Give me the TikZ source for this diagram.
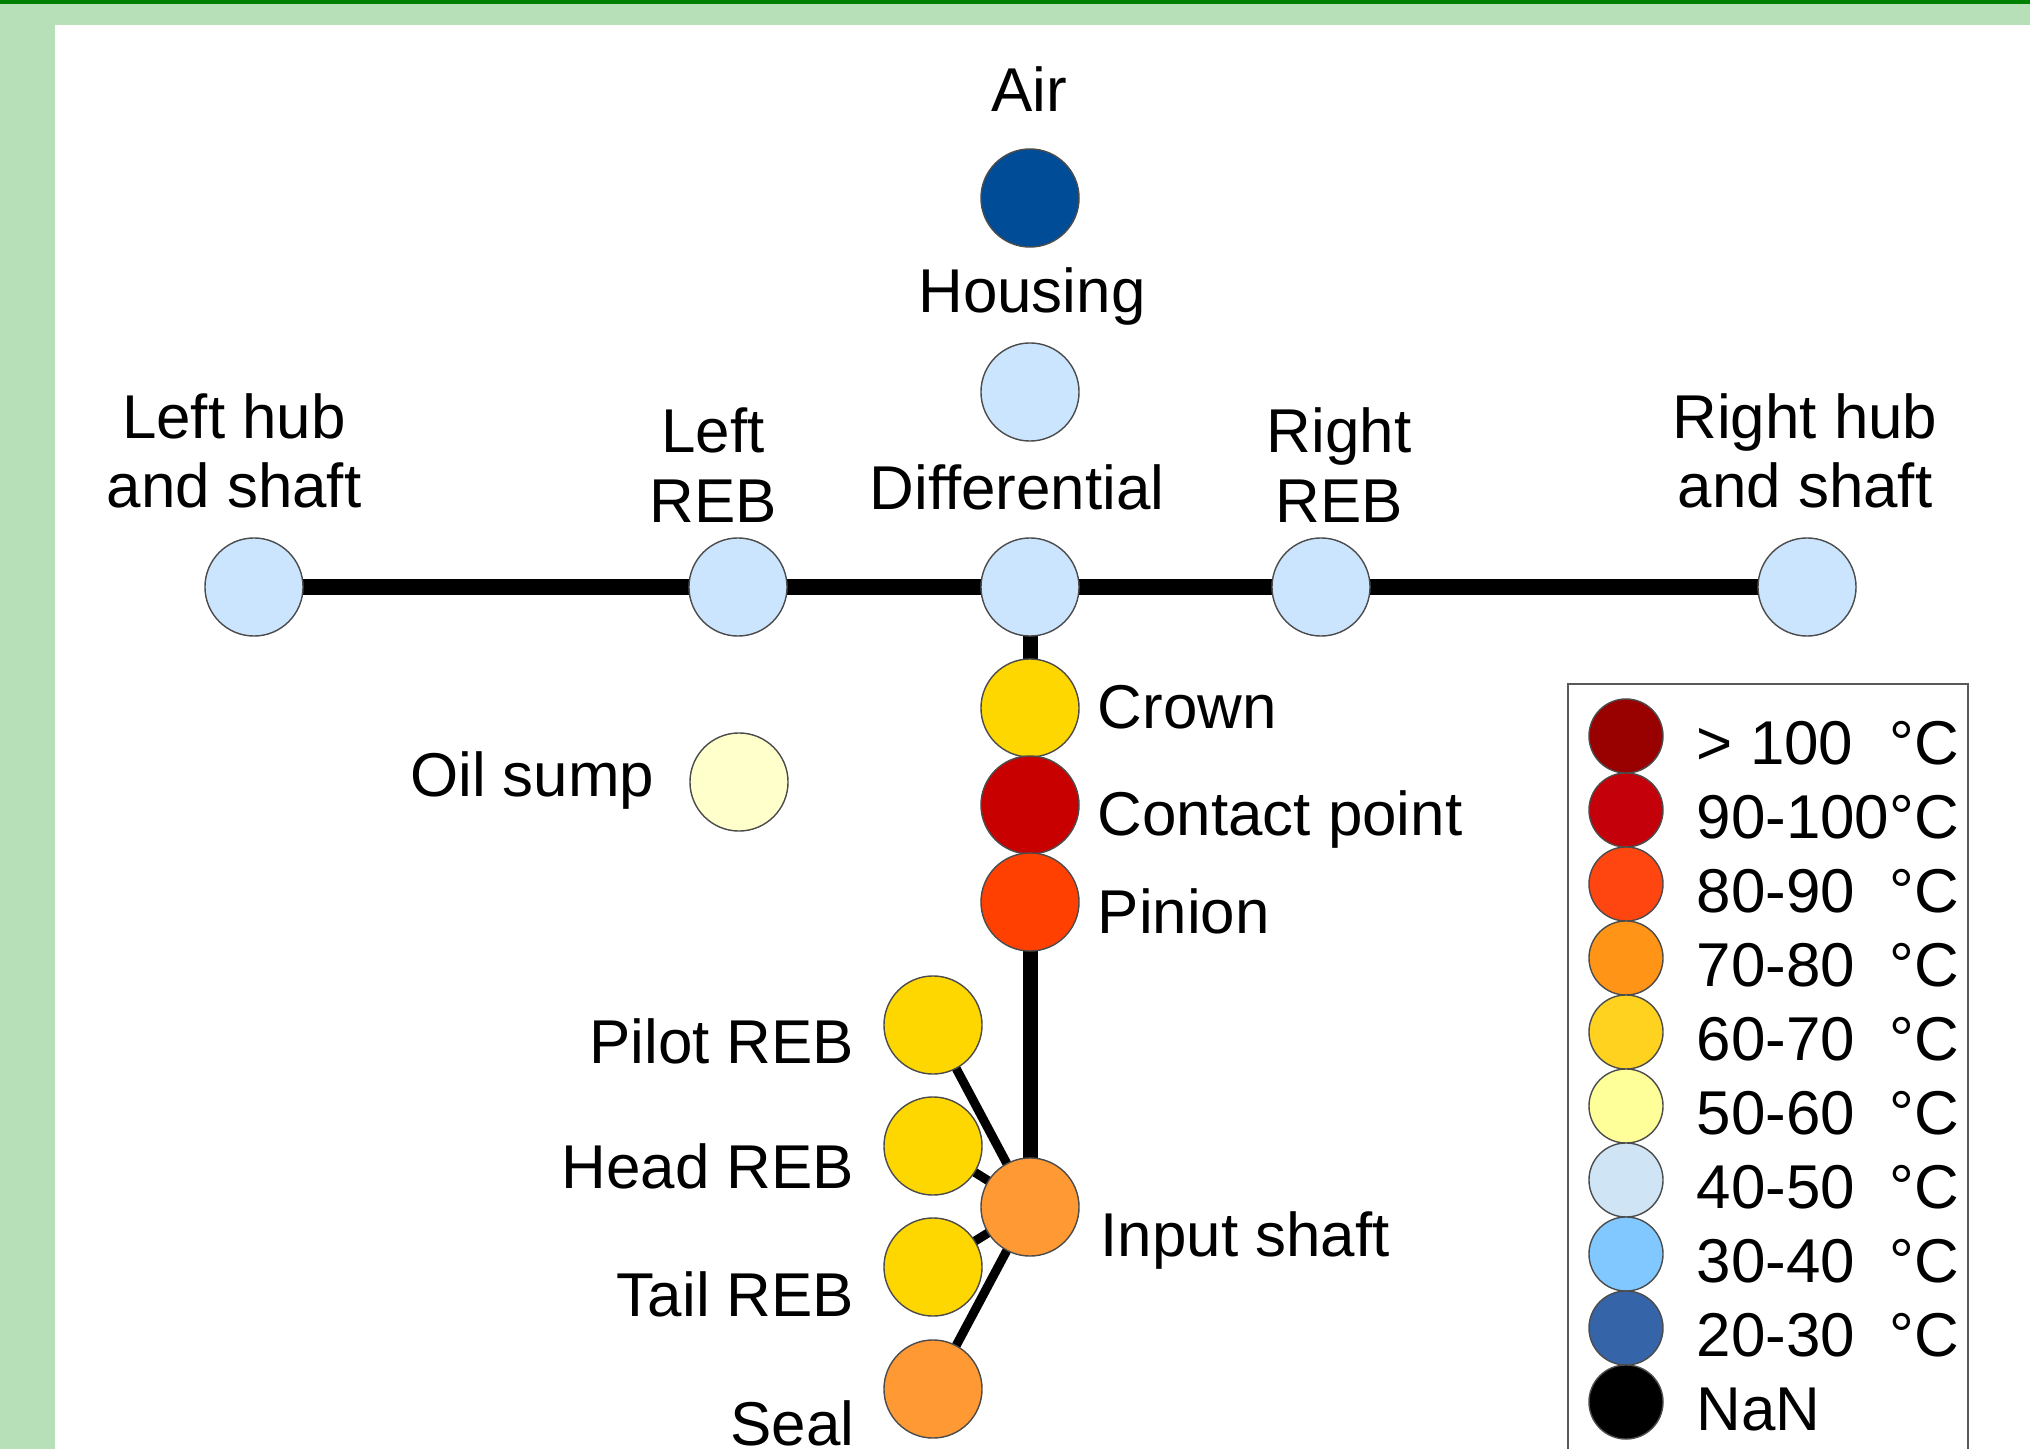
\documentclass[tikz,border=0pt]{standalone}
\usepackage{fontspec}
\setmainfont{Liberation Sans}
\usetikzlibrary{backgrounds}
\pgfdeclarelayer{edges}
\pgfsetlayers{background,edges,main}
\definecolor{bandgreen}{HTML}{008000}
\definecolor{lightband}{HTML}{B8E0B8}
\definecolor{airblue}{HTML}{004C97}
\definecolor{cool}{HTML}{CCE5FF}
\definecolor{gold}{HTML}{FFD700}
\definecolor{contactred}{HTML}{C80000}
\definecolor{pinionred}{HTML}{FF4000}
\definecolor{sump}{HTML}{FFFFCC}
\definecolor{shaftorange}{HTML}{FF9933}
\definecolor{lgA}{HTML}{990000}
\definecolor{lgB}{HTML}{C4000B}
\definecolor{lgC}{HTML}{FF4510}
\definecolor{lgD}{HTML}{FF9416}
\definecolor{lgE}{HTML}{FFD21F}
\definecolor{lgF}{HTML}{FFFF99}
\definecolor{lgG}{HTML}{CFE5F5}
\definecolor{lgH}{HTML}{80C8FF}
\definecolor{lgI}{HTML}{3565A8}
\definecolor{lgJ}{HTML}{000000}
\tikzset{
  lbl/.style={font=\fontsize{17.6}{19.9}\selectfont, inner sep=0pt, text=black},
  temp/.style={circle, draw=black!70, line width=0.4pt, minimum size=0.98cm, inner sep=0pt},
  legdot/.style={circle, draw=black!70, line width=0.4pt, minimum size=0.74cm, inner sep=0pt},
  shaftline/.style={line width=0.16cm},
  linkline/.style={line width=0.09cm},
}
\begin{document}
\begin{tikzpicture}[x=0.01cm, y=-0.01cm]
\useasboundingbox (0,0) rectangle (2030,1449);
\begin{pgfonlayer}{background}
  \fill[lightband] (0,0) rectangle (2030,1449);
  \fill[white] (55,25) rectangle (2030,1449);
  \fill[bandgreen] (0,0) rectangle (2030,4);
\end{pgfonlayer}

% temperature nodes
\node[temp, fill=airblue] (air) at (1030,198) {};
\node[temp, fill=cool] (housing) at (1030,392) {};
\node[temp, fill=cool] (lhub) at (254,587) {};
\node[temp, fill=cool] (lreb) at (738,587) {};
\node[temp, fill=cool] (diff) at (1030,587) {};
\node[temp, fill=cool] (rreb) at (1321,587) {};
\node[temp, fill=cool] (rhub) at (1807,587) {};
\node[temp, fill=gold] (crown) at (1030,708) {};
\node[temp, fill=contactred] (contact) at (1030,805) {};
\node[temp, fill=pinionred] (pinion) at (1030,902) {};
\node[temp, fill=sump] (sump) at (739,782) {};
\node[temp, fill=gold] (pilot) at (933,1025) {};
\node[temp, fill=gold] (head) at (933,1146) {};
\node[temp, fill=gold] (tail) at (933,1267) {};
\node[temp, fill=shaftorange] (seal) at (933,1389) {};
\node[temp, fill=shaftorange] (input) at (1030,1207) {};

% connectors
\begin{pgfonlayer}{edges}
  \draw[shaftline] (lhub.center) -- (lreb.center) -- (diff.center) -- (rreb.center) -- (rhub.center);
  \draw[line width=0.15cm] (diff.center) -- (crown.center) -- (contact.center) -- (pinion.center) -- (input.center);
  \draw[linkline] (pilot.center) -- (input.center);
  \draw[linkline] (head.center) -- (input.center);
  \draw[linkline] (tail.center) -- (input.center);
  \draw[linkline] (seal.center) -- (input.center);
\end{pgfonlayer}

% labels
\node[lbl, anchor=base] (airlbl) at (1029,112) {Air};
\node[lbl, anchor=base] (houslbl) at (1032,313) {Housing};
\node[lbl, anchor=base, align=center] (lhublbl) at (234,508) {Left hub\\and shaft};
\node[lbl, anchor=base, align=center] (lreblbl) at (713,522) {Left\\REB};
\node[lbl, anchor=base] (difflbl) at (1017,509) {Differential};
\node[lbl, anchor=base, align=center] (rreblbl) at (1339,522) {Right\\REB};
\node[lbl, anchor=base, align=center] (rhublbl) at (1805,508) {Right hub\\and shaft};
\node[lbl, anchor=base west] (crownlbl) at (1097,728) {Crown};
\node[lbl, anchor=base west] (contactlbl) at (1097,835) {Contact point};
\node[lbl, anchor=base west] (pinionlbl) at (1097,933) {Pinion};
\node[lbl, anchor=base east] (sumplbl) at (655,796) {Oil sump};
\node[lbl, anchor=base east] (pilotlbl) at (855,1063) {Pilot REB};
\node[lbl, anchor=base east] (headlbl) at (855,1188) {Head REB};
\node[lbl, anchor=base east] (taillbl) at (855,1316) {Tail REB};
\node[lbl, anchor=base east] (seallbl) at (855,1445) {Seal};
\node[lbl, anchor=base west] (inputlbl) at (1100,1256) {Input shaft};

% legend
\draw[draw=black!65, line width=0.02cm] (1568,684) rectangle (1968,1480);
\foreach \c/\t [count=\i] in {lgA/{> 100}, lgB/{90-100}, lgC/{80-90}, lgD/{70-80}, lgE/{60-70}, lgF/{50-60}, lgG/{40-50}, lgH/{30-40}, lgI/{20-30}} {
  \node[legdot, fill=\c] (ld\i) at (1626, {736+74*(\i-1)}) {};
  \node[lbl, anchor=base west] (lt\i) at (1696, {764+74*(\i-1)}) {\t};
  \node[lbl, anchor=base east] (lc\i) at (1960, {764+74*(\i-1)}) {°C};
}
\node[legdot, fill=lgJ] (ld10) at (1626,1402) {};
\node[lbl, anchor=base west] (lt10) at (1696,1430) {NaN};
\end{tikzpicture}
\end{document}
